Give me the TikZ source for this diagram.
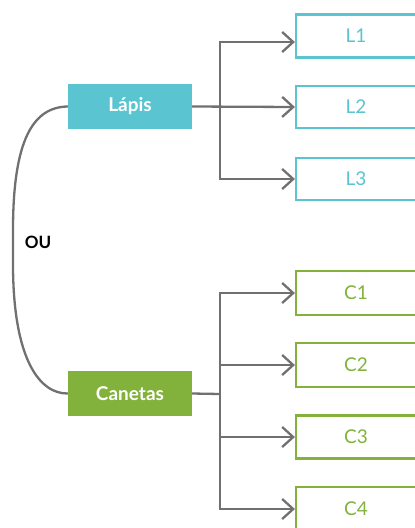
\documentclass[tikz,border=0pt]{standalone}
\usepackage{fontspec}
\setmainfont{Lato}
\usetikzlibrary{arrows.meta}
\definecolor{teal1}{HTML}{5BC4D1}
\definecolor{green1}{HTML}{82B23C}
\definecolor{conn1}{HTML}{707070}
\tikzset{
  mainbox/.style={draw=none, minimum width=124pt, minimum height=45pt, inner sep=0pt, text=white, font=\fontsize{19}{22}\selectfont\bfseries},
  subbox/.style={draw=#1, fill=white, line width=2.2pt, minimum width=120pt, minimum height=42pt, inner sep=0pt, text=#1, font=\fontsize{19}{22}\selectfont},
  line/.style={draw=conn1, line width=2.3pt},
  arr/.style={line, -{Straight Barb[length=11pt,width=20pt,line width=2.3pt]}},
}
\begin{document}
\begin{tikzpicture}[x=1pt,y=-1pt]
\useasboundingbox (0,0) rectangle (415,528);
\clip (0,0) rectangle (415,528);
% main nodes
\node[mainbox, fill=teal1] (lapis) at (130,106.5) {Lápis};
\node[mainbox, fill=green1] (canetas) at (130,393.5) {Canetas};
% sub nodes
\node[subbox=teal1, minimum height=43pt] (L1) at (356,36) {L1};
\node[subbox=teal1] (L2) at (356,107) {L2};
\node[subbox=teal1] (L3) at (356,179) {L3};
\node[subbox=green1, minimum height=44pt] (C1) at (356,293) {C1};
\node[subbox=green1, minimum height=44pt] (C2) at (356,365) {C2};
\node[subbox=green1, minimum height=43pt] (C3) at (356,437) {C3};
\node[subbox=green1, minimum height=44pt] (C4) at (356,509) {C4};
\node[font=\fontsize{17}{20}\selectfont\bfseries, text=black] (ou) at (38,242) {OU};
% junctions
\coordinate (jl) at (220,107);
\coordinate (jc) at (220,394);
\coordinate (L1a) at ([yshift=-6pt]L1.west);
% Lapis connectors
\draw[arr] (lapis.east) -- (L2.west);
\draw[arr] (jl |- L3.west) -- (jl |- L1a) -- (L1a);
\draw[arr] (jl |- L1a) -- (jl |- L3.west) -- (L3.west);
% Canetas connectors
\draw[line] (canetas.east) -- (jc);
\draw[arr] (jc |- C4.west) -- (jc |- C1.west) -- (C1.west);
\draw[arr] (jc |- C1.west) -- (jc |- C4.west) -- (C4.west);
\draw[arr] (jc |- C2.west) -- (C2.west);
\draw[arr] (jc |- C3.west) -- (C3.west);
% OU curve
\draw[line] (lapis.west) .. controls (33,107) and (13,140) .. (13,230) -- (13,264) .. controls (13,360) and (40,394) .. (canetas.west);
\end{tikzpicture}
\end{document}
